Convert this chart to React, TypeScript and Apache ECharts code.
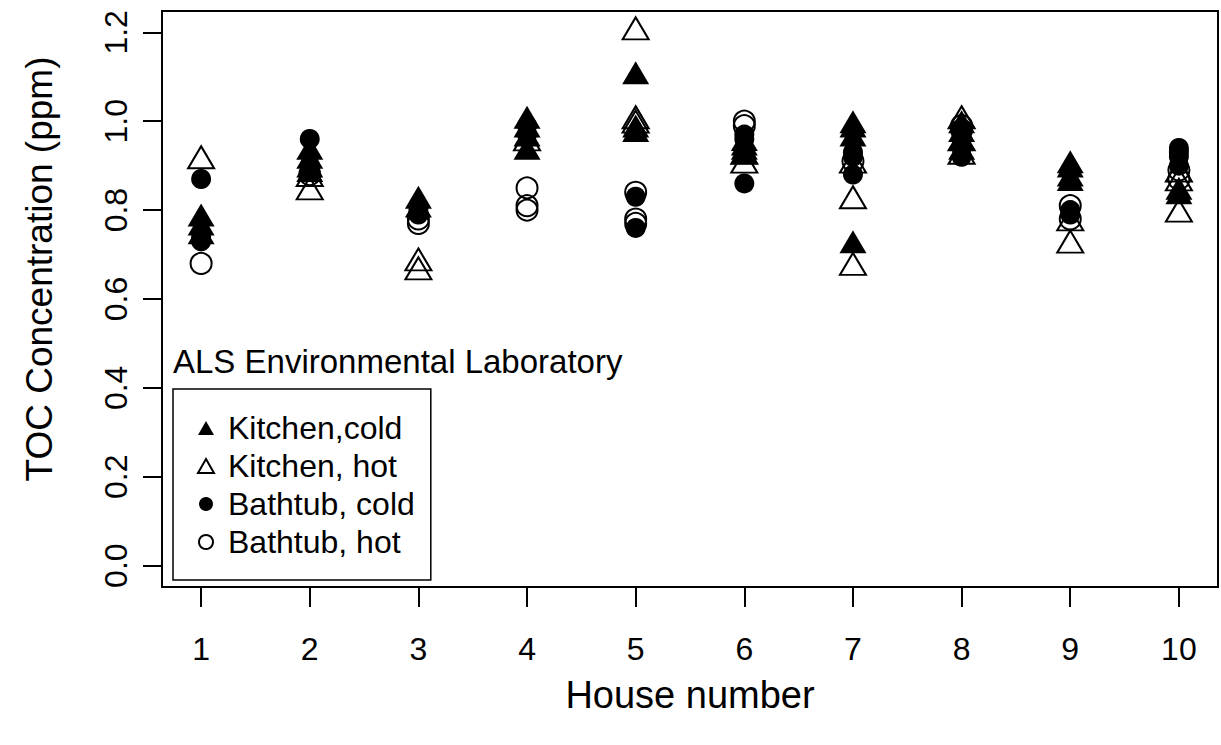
import React, { useEffect, useRef } from "react";
import * as echarts from "echarts";

// ---- data ----
const houses: number[] = [1, 2, 3, 4, 5, 6, 7, 8, 9, 10];
const yTicks: number[] = [0, 0.2, 0.4, 0.6, 0.8, 1.0, 1.2];
const seriesNames: string[] = ["Kitchen,cold", "Kitchen, hot", "Bathtub, cold", "Bathtub, hot"];

// values per house (index 0 = house 1)
const kitchenCold: number[][] = [
  [0.78, 0.76, 0.74],
  [0.93, 0.91, 0.89, 0.88],
  [0.82, 0.8],
  [1.0, 0.98, 0.96, 0.93],
  [1.1, 0.98, 0.97],
  [0.95, 0.94, 0.93, 0.92],
  [0.99, 0.98, 0.96, 0.72],
  [0.99, 0.97, 0.95, 0.93],
  [0.9, 0.89, 0.87, 0.86],
  [0.84, 0.83],
];
const kitchenHot: number[][] = [
  [0.91],
  [0.87, 0.84],
  [0.68, 0.66],
  [0.95],
  [1.2, 1.0, 0.99],
  [0.92, 0.9],
  [0.9, 0.82, 0.67],
  [1.0, 0.95, 0.92],
  [0.77, 0.72],
  [0.88, 0.86, 0.79],
];
const bathtubCold: number[][] = [
  [0.87, 0.74, 0.73],
  [0.96, 0.9],
  [0.8, 0.79],
  [0.99, 0.97],
  [0.83, 0.76],
  [0.97, 0.96, 0.86],
  [0.93, 0.92, 0.88],
  [0.98, 0.96, 0.94, 0.92],
  [0.8, 0.79],
  [0.94, 0.93, 0.92, 0.9],
];
const bathtubHot: number[][] = [
  [0.68],
  [0.88],
  [0.78, 0.77],
  [0.85, 0.81, 0.8],
  [0.84, 0.78, 0.77],
  [1.0, 0.99],
  [0.91],
  [0.99, 0.98],
  [0.81, 0.78],
  [0.89, 0.87],
];

const toPoints = (vals: number[][]) =>
  vals.flatMap((arr, i) => arr.map((v) => [houses[i], v]));

const FONT = "'Liberation Sans', Arial, Helvetica, sans-serif";

export default function App() {
  const ref = useRef<HTMLDivElement>(null);
  useEffect(() => {
    if (!ref.current) return;
    const chart = echarts.init(ref.current, undefined, { renderer: "svg" });
    const open = { color: "rgba(0,0,0,0)", borderColor: "#000", borderWidth: 2, opacity: 1 };
    const filled = { color: "#000", opacity: 1 };
    chart.setOption({
      animation: false,
      backgroundColor: "#fff",
      textStyle: { fontFamily: FONT, color: "#000" },
      title: {
        text: "ALS Environmental Laboratory",
        left: 173,
        top: 345,
        padding: 0,
        textStyle: { fontSize: 33, fontWeight: "normal", color: "#000", fontFamily: FONT },
      },
      grid: {
        left: 162,
        top: 11,
        width: 1056,
        height: 576,
        show: true,
        borderColor: "#000",
        borderWidth: 2,
        backgroundColor: "transparent",
      },
      legend: {
        orient: "vertical",
        left: 173,
        top: 389,
        data: seriesNames,
        itemWidth: 16,
        itemHeight: 14,
        itemGap: 6,
        padding: [23, 16, 22, 24],
        borderColor: "#000",
        borderWidth: 1.5,
        selectedMode: false,
        textStyle: { fontSize: 32, color: "#000", fontFamily: FONT, padding: [0, 0, 0, 9] },
      },
      xAxis: {
        type: "value",
        min: 0.64,
        max: 10.36,
        name: "House number",
        nameLocation: "middle",
        nameGap: 89,
        nameTextStyle: { fontSize: 38, color: "#000", fontFamily: FONT },
        axisLine: { show: false, onZero: false },
        splitLine: { show: false },
        axisTick: { show: true, length: 20, lineStyle: { color: "#000", width: 2 }, customValues: houses },
        axisLabel: { customValues: houses, fontSize: 32, color: "#000", margin: 46, fontFamily: FONT },
      },
      yAxis: {
        type: "value",
        min: -0.048,
        max: 1.248,
        name: "TOC Concentration (ppm)",
        nameLocation: "middle",
        nameRotate: 90,
        nameGap: 104,
        nameTextStyle: { fontSize: 37, color: "#000", fontFamily: FONT, padding: [0, 0, 0, 60] },
        axisLine: { show: false, onZero: false },
        splitLine: { show: false },
        axisTick: { show: true, length: 19, lineStyle: { color: "#000", width: 2 }, customValues: yTicks },
        axisLabel: {
          customValues: yTicks,
          rotate: 90,
          fontSize: 32,
          color: "#000",
          margin: 30,
          fontFamily: FONT,
          formatter: (v: number) => v.toFixed(1),
        },
      },
      series: [
        {
          name: seriesNames[0],
          type: "scatter",
          data: toPoints(kitchenCold),
          symbol: "triangle",
          symbolSize: [27, 23],
          symbolOffset: [0, -4],
          itemStyle: filled,
          emphasis: { disabled: true },
        },
        {
          name: seriesNames[1],
          type: "scatter",
          data: toPoints(kitchenHot),
          symbol: "triangle",
          symbolSize: [26, 22],
          symbolOffset: [0, -4],
          itemStyle: open,
          emphasis: { disabled: true },
        },
        {
          name: seriesNames[2],
          type: "scatter",
          data: toPoints(bathtubCold),
          symbol: "circle",
          symbolSize: 20,
          itemStyle: filled,
          emphasis: { disabled: true },
        },
        {
          name: seriesNames[3],
          type: "scatter",
          data: toPoints(bathtubHot),
          symbol: "circle",
          symbolSize: 21,
          itemStyle: open,
          emphasis: { disabled: true },
        },
      ],
    });
    return () => chart.dispose();
  }, []);
  return (
    <div
      ref={ref}
      style={{ position: "absolute", left: 0, top: 0, width: 1221, height: 745 }}
    />
  );
}
